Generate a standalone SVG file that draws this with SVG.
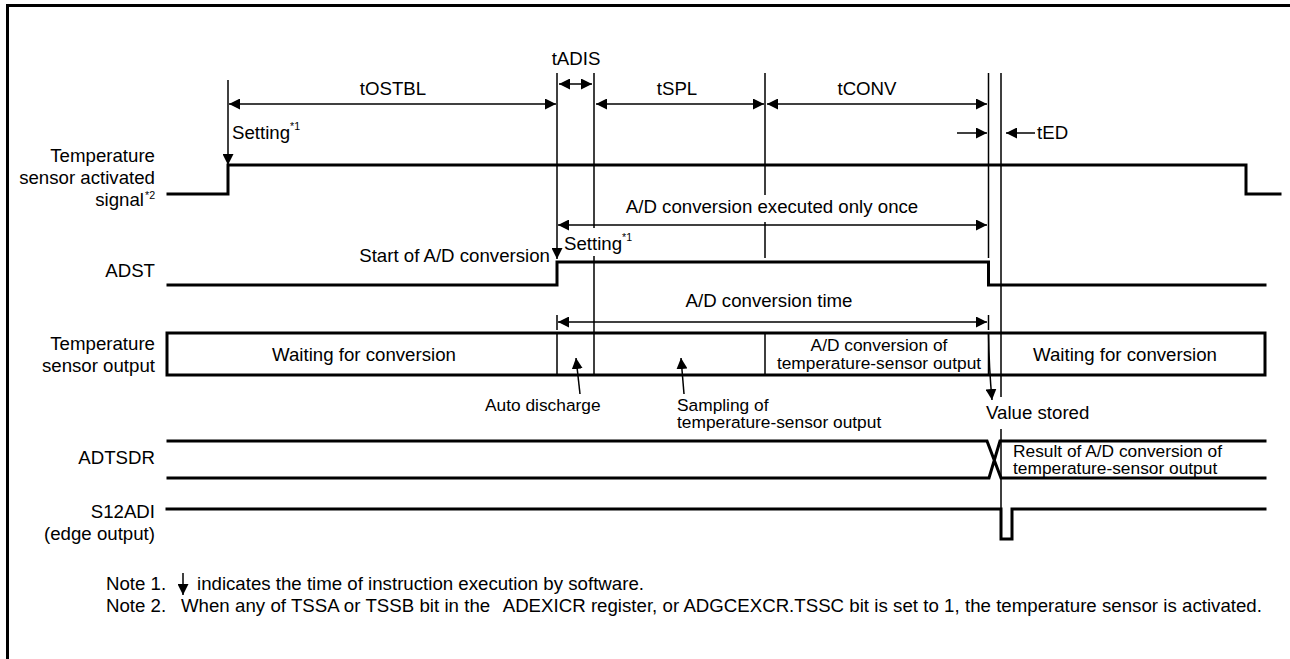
<svg xmlns="http://www.w3.org/2000/svg" width="1290" height="659" viewBox="0 0 1290 659">
<style>
text{font-family:"Liberation Sans",Arial,sans-serif;font-size:18.67px;fill:#000}
.r{text-anchor:end}.m{text-anchor:middle}.s{font-size:17.33px}.u{font-size:10.67px}
.f{fill:none;stroke:#000;stroke-width:3;stroke-linecap:square;stroke-linejoin:miter}
.g{fill:none;stroke:#000;stroke-width:1.5}
.d{fill:none;stroke:#000;stroke-width:1.5;marker-start:url(#as);marker-end:url(#ae)}
.e{fill:none;stroke:#000;stroke-width:1.5;marker-end:url(#ae)}
</style>
<defs>
<marker id="ae" markerUnits="userSpaceOnUse" markerWidth="12" markerHeight="11" refX="11" refY="5.5" orient="auto"><path d="M0 0L11 5.5L0 11Z" fill="#000"/></marker>
<marker id="as" markerUnits="userSpaceOnUse" markerWidth="12" markerHeight="11" refX="0" refY="5.5" orient="auto"><path d="M11 0L0 5.5L11 11Z" fill="#000"/></marker>
</defs>
<path id="frame" d="M1290 5.5H7.5V659" fill="none" stroke="#000" stroke-width="3"/>
<g id="connectors">
<path class="g" d="M594 73V228M594 256V375M765 73V195M765 222V258M988.5 73V258M1001 73V397M1001 429V510"/>
<path class="e" d="M228 80V165"/>
<path class="e" d="M557 73V259"/>
<path class="g" d="M557 315V330M988.5 315V330"/>
<path class="d" d="M229 104H556"/><path class="d" d="M559 84H592"/><path class="d" d="M596 104H764"/>
<path class="d" d="M767 104H987"/><path class="e" d="M957 133H987"/><path class="e" d="M1035 133H1006"/>
<path class="d" d="M558 225H987"/><path class="d" d="M558 322H987"/>
<path class="e" d="M988.5 333Q989 368 992 400"/>
<path class="e" d="M183 573V595"/>
<path class="e" d="M580 394L576 358"/>
<path class="e" d="M684 394L681 358"/>
</g>
<g id="signal-temp"><path class="f" d="M168 194H228V165H1246V194H1280"/><text class="r" x="155" y="162">Temperature</text><text class="r" x="155" y="184">sensor activated</text><text class="r" x="144" y="206">signal</text><text class="u" x="145" y="199">*2</text></g>
<g id="signal-adst"><path class="f" d="M168 285H557V262H988.5V285H1265"/><text class="r" x="155" y="277">ADST</text></g>
<g id="signal-output"><path class="f" d="M167 333H1265V375H167Z"/><path class="g" d="M557 333V375M765 333V375M988.5 333V375"/>
<text class="r" x="155" y="350">Temperature</text><text class="r" x="155" y="372">sensor output</text>
<text class="m" x="364" y="361">Waiting for conversion</text><text class="m" x="1125" y="361">Waiting for conversion</text>
<text class="s m" x="879" y="351">A/D conversion of</text><text class="s m" x="879" y="369">temperature-sensor output</text></g>
<g id="signal-adtsdr"><path class="f" d="M168 441H987L1001 478H1265M168 478H989L1000 441H1265"/><text class="r" x="155" y="464">ADTSDR</text>
<text class="s" x="1013" y="457">Result of A/D conversion of</text><text class="s" x="1013" y="474">temperature-sensor output</text></g>
<g id="signal-s12adi"><path class="f" d="M167 509H1001V539H1012V509H1265"/><text class="r" x="155" y="518">S12ADI</text><text class="r" x="155" y="540">(edge output)</text></g>
<g id="labels">
<text class="m" x="393" y="95">tOSTBL</text><text class="m" x="576" y="65">tADIS</text><text class="m" x="677" y="95">tSPL</text><text class="m" x="867" y="95">tCONV</text><text x="1037" y="139">tED</text>
<text x="232" y="139">Setting</text><text class="u" x="290" y="130">*1</text>
<text x="564" y="250">Setting</text><text class="u" x="622" y="241">*1</text>
<text class="r" x="550" y="262">Start of A/D conversion</text>
<text class="m" x="772" y="213">A/D conversion executed only once</text>
<text class="m" x="769" y="307">A/D conversion time</text>
<text x="986" y="419">Value stored</text>
<text class="s" x="485" y="411">Auto discharge</text>
<text class="s" x="677" y="411">Sampling of</text><text class="s" x="677" y="428">temperature-sensor output</text>
<text x="106" y="590">Note 1.</text><text x="197" y="590">indicates the time of instruction execution by software.</text>
<text x="106" y="612">Note 2.</text><text x="181" y="612" xml:space="preserve" word-spacing="0.1">When any of TSSA or TSSB bit in the  <tspan dx="3">ADEXICR register, or ADGCEXCR.TSSC bit is set to 1, the temperature sensor is activated.</tspan></text>
</g>
</svg>
